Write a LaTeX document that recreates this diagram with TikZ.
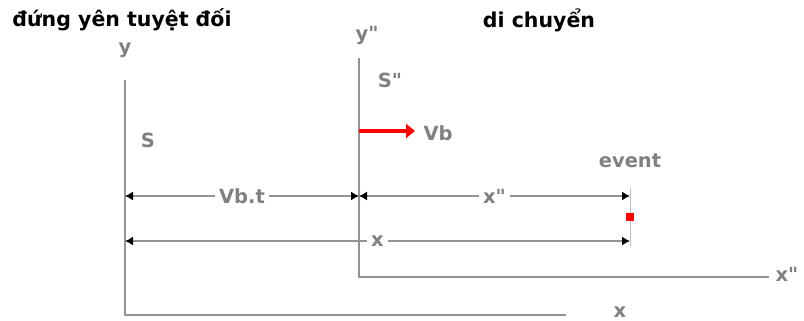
\documentclass[tikz,border=0pt]{standalone}
\usepackage{fontspec}
\setmainfont{DejaVu Sans}
\usetikzlibrary{arrows.meta}

\begin{document}
\begin{tikzpicture}[x=1pt, y=-1pt, >={Latex[black,length=8pt,width=9pt]},
    truc/.style={gray!85, line width=1.6pt},
    kichthuoc/.style={gray!85, line width=1.3pt, <->},
    nhan/.style={text=gray, font=\bfseries\fontsize{19.5}{19.5}\selectfont},
    tieude/.style={font=\bfseries\fontsize{20.5}{20.5}\selectfont}]

    % Khung hình
    \useasboundingbox (0,0) rectangle (804,321);

    % Tiêu đề
    \node[tieude] (dungyen) at (122,20) {đứng yên tuyệt đối};
    \node[tieude] (dichuyen) at (539,20) {di chuyển};

    % Hệ S đứng yên
    \coordinate (O) at (125,315);
    \coordinate (Oy) at (125,80);
    \coordinate (Ox) at (566,315);
    \draw[truc] (Oy) -- (O) -- (Ox);
    \node[nhan] (y) at (125,50) {y};
    \node[nhan] (x) at (620,312) {x};
    \node[nhan] (S) at (148,140) {S};

    % Hệ S" di chuyển
    \coordinate (O2) at (359,277);
    \coordinate (O2y) at (359,58);
    \coordinate (O2x) at (769,277);
    \draw[truc] (O2y) -- (O2) -- (O2x);
    \node[nhan] (y2) at (367,35) {y\textquotedbl};
    \node[nhan] (S2) at (390,80) {S\textquotedbl};
    \node[nhan] (x2) at (787,274) {x\textquotedbl};

    % Vận tốc Vb
    \coordinate (V0) at (359,131);
    \coordinate (V1) at (415,131);
    \node[nhan, anchor=west] (Vb) at (420,133) {Vb};
    \draw[red, line width=4.5pt, -{Triangle[length=9pt,width=14pt]}] (V0) -- (V1);

    % Sự kiện
    \node[nhan] (event) at (630,161) {event};
    \coordinate (E1) at (630,188);
    \coordinate (E2) at (630,246);
    \draw[gray!50, line width=0.8pt] (E1) -- (E2);
    \fill[red] (626,213) rectangle (634,221);

    % Các khoảng cách
    \coordinate (A1) at (125,196);
    \coordinate (A2) at (359,196);
    \coordinate (A3) at (630,196);
    \coordinate (B1) at (125,241);
    \coordinate (B2) at (630,241);
    \draw[kichthuoc] (A1) -- node[nhan, fill=white, inner sep=4pt] (Vbt) {Vb.t} (A2);
    \draw[kichthuoc] (A2) -- node[nhan, fill=white, inner sep=4pt] (xx2) {x\textquotedbl} (A3);
    \draw[kichthuoc] (B1) -- node[nhan, fill=white, inner sep=4pt] (xx) {x} (B2);

\end{tikzpicture}
\end{document}
